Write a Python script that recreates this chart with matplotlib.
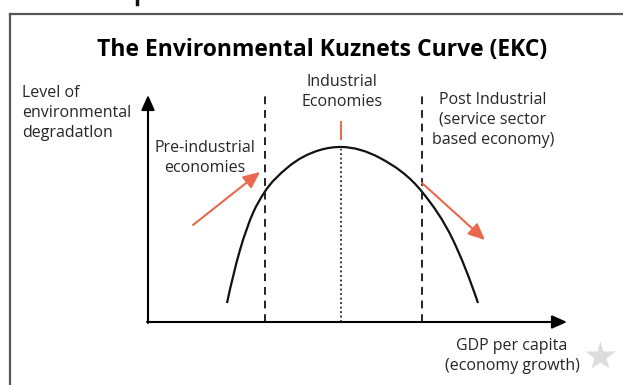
import matplotlib
matplotlib.use('Agg')
import matplotlib.pyplot as plt
from matplotlib.lines import Line2D
from matplotlib.path import Path
from matplotlib.patches import PathPatch

plt.rcParams['font.family'] = 'Open Sans'

# Curve of degradation vs GDP (diagram units, origin at the axes corner)
gdp = [79, 92, 105, 116, 139, 172, 193, 232, 275, 305, 330]
degradation = [19, 72, 109, 129, 154, 172, 175, 164, 129, 82, 19]

stage_bounds = [117, 274]      # pre-industrial | industrial | post-industrial
turning_point = 193            # peak of the curve
stage_top = 230
axis_len_x, axis_len_y = 419, 227

# arrows showing the direction along each stage
rise_arrow = [(45, 97), (112, 150)]
fall_arrow = [(274, 139), (337, 82)]

title = 'The Environmental Kuznets Curve (EKC)'
y_label = 'Level of\nenvironmental\ndegradatlon'
x_label = 'GDP per capita\n(economy growth)'
stage_labels = ['Pre-industrial\neconomies', 'Industrial\nEconomies',
                'Post Industrial\n(service sector\nbased economy)']

RED = '#e8694d'
TXT = '#262626'


def smooth_path(xs, ys):
    # cubic Hermite in x through the points, as Bezier segments
    n = len(xs)
    h = [xs[i + 1] - xs[i] for i in range(n - 1)]
    d = [(ys[i + 1] - ys[i]) / h[i] for i in range(n - 1)]
    m = [0.0] * n
    for i in range(1, n - 1):
        m[i] = (d[i - 1] * h[i] + d[i] * h[i - 1]) / (h[i - 1] + h[i])
    m[0] = 2 * d[0] - m[1]
    m[-1] = 2 * d[-1] - m[-2]
    verts = [(xs[0], ys[0])]
    codes = [Path.MOVETO]
    for i in range(n - 1):
        k = h[i] / 3
        verts += [(xs[i] + k, ys[i] + m[i] * k),
                  (xs[i + 1] - k, ys[i + 1] - m[i + 1] * k),
                  (xs[i + 1], ys[i + 1])]
        codes += [Path.CURVE4] * 3
    return Path(verts, codes)


fig = plt.figure(figsize=(6.23, 3.85), dpi=100)
ax = fig.add_axes([0, 0, 1, 1])
ax.set_xlim(-148, 475)
ax.set_ylim(-63, 322)
ax.axis('off')

# outer frame (top and left edges only show)
fig.add_artist(Line2D([10 / 623, 1], [1 - 14 / 385] * 2, color='#555555', lw=1.6))
fig.add_artist(Line2D([10 / 623] * 2, [0, 1 - 14 / 385], color='#555555', lw=1.6))
fig.add_artist(Line2D([137 / 623] * 2, [1, 1 - 4 / 385], color='#111111', lw=2.5))

# axes with arrow heads
head = '-|>,head_length=0.9,head_width=0.4'
ax.annotate('', xy=(0, axis_len_y), xytext=(0, -1),
            arrowprops=dict(arrowstyle=head, lw=1.5, color='black', shrinkA=0, shrinkB=0))
ax.annotate('', xy=(axis_len_x, 0), xytext=(-1, 0),
            arrowprops=dict(arrowstyle=head, lw=1.5, color='black', shrinkA=0, shrinkB=0))

# stage boundaries and turning point
for b in stage_bounds:
    ax.plot([b, b], [0, stage_top], color='#222222', lw=1.4, ls=(0, (4, 3)))
ax.plot([turning_point, turning_point], [0, max(degradation) - 2], color='#222222', lw=1.3, ls=(0, (1, 1.5)))
ax.plot([turning_point, turning_point], [183, 200], color=RED, lw=1.4)

# the curve
ax.add_patch(PathPatch(smooth_path(gdp, degradation), fill=False, ec='#111111', lw=1.6))

# direction arrows
red_head = '-|>,head_length=1.0,head_width=0.45'
for (x0, y0), (x1, y1) in [rise_arrow, fall_arrow]:
    ax.annotate('', xy=(x1, y1), xytext=(x0, y0),
                arrowprops=dict(arrowstyle=red_head, lw=1.5, color=RED, shrinkA=0, shrinkB=0))

# text
fs = 11.5
ls = 1.32
ax.text(174, 266, title, ha='center', va='baseline', fontsize=16.5, fontweight='bold', color='black')
ax.text(-126, 237, y_label, ha='left', va='top', fontsize=fs, linespacing=ls, color=TXT)
ax.text(57, 182, stage_labels[0], ha='center', va='top', fontsize=fs, linespacing=ls, color=TXT)
ax.text(194, 248, stage_labels[1], ha='center', va='top', fontsize=fs, linespacing=ls, color=TXT)
ax.text(345, 230, stage_labels[2], ha='center', va='top', fontsize=fs, linespacing=ls, color=TXT)
ax.text(364, -16, x_label, ha='center', va='top', fontsize=fs, linespacing=ls, color=TXT)

# faint star mark in the corner
ax.plot([452], [-34], marker='*', markersize=22, color='#dddddd', mec='none')

fig.savefig('out.png', dpi=100)
